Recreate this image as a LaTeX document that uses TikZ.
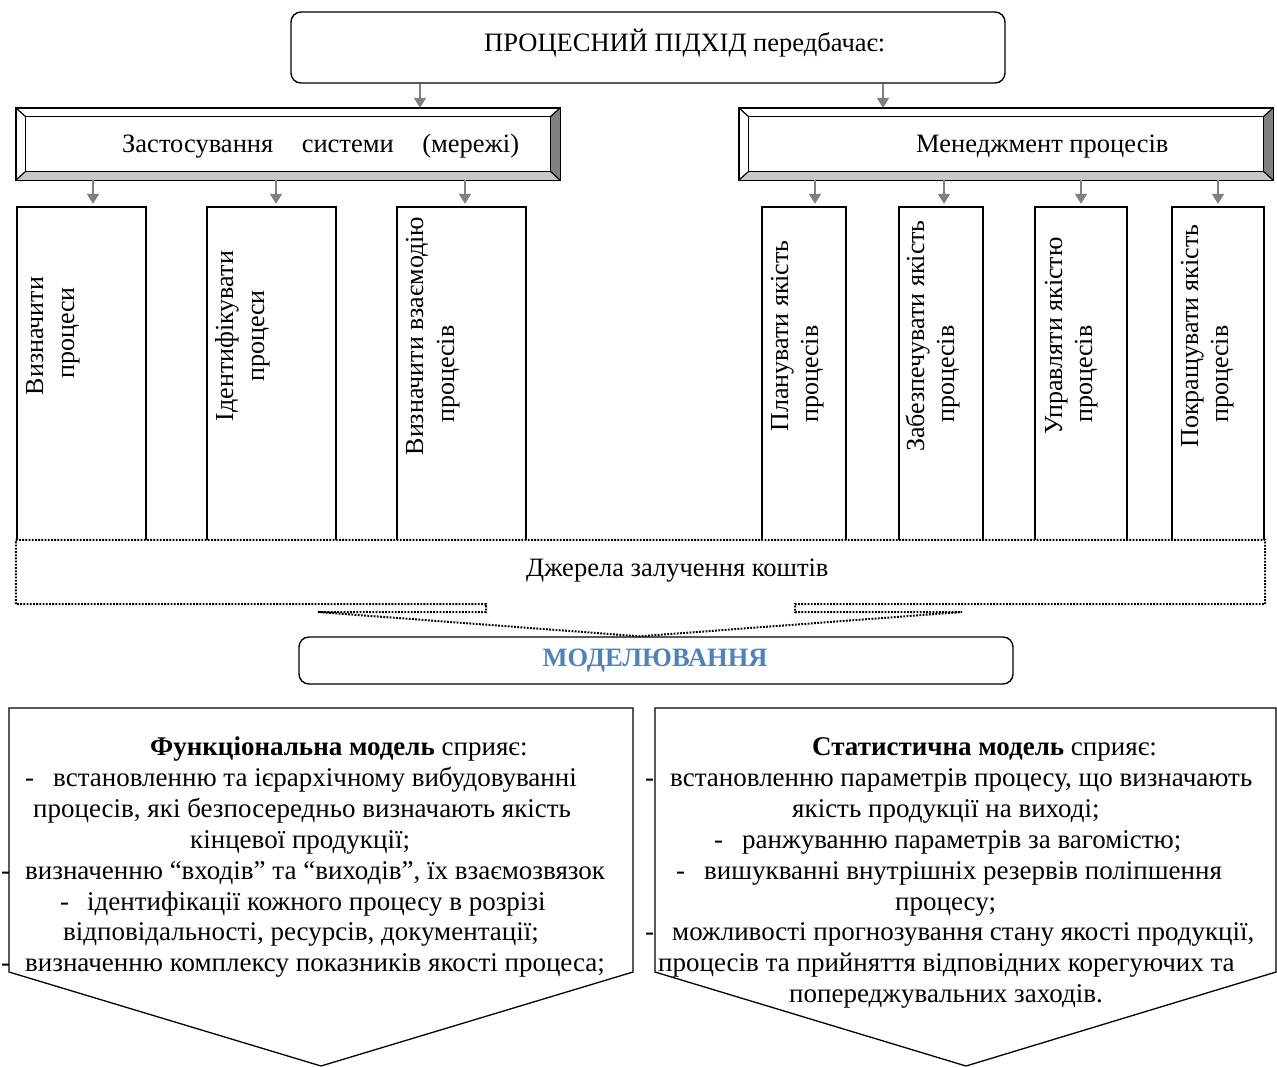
\documentclass[tikz,border=0pt]{standalone}
\usepackage{fontspec}
\setmainfont{Liberation Serif}
\usetikzlibrary{arrows.meta,calc}
\definecolor{arrgray}{RGB}{128,128,128}
\definecolor{bevlight}{RGB}{200,200,200}
\definecolor{bevdark}{RGB}{128,128,128}
\definecolor{modblue}{RGB}{79,129,189}

% raised (bevelled) frame around a rectangular node
\newcommand\bevelframe[1]{%
  \fill[bevdark] (#1.north east) -- (#1.south east) -- ($(#1.south east)+(-10,-9)$) -- ($(#1.north east)+(-10,9)$) -- cycle;
  \fill[bevlight] (#1.south west) -- (#1.south east) -- ($(#1.south east)+(-10,-9)$) -- ($(#1.south west)+(10,-9)$) -- cycle;
  \draw[line width=1.2pt] ($(#1.north west)+(10,9)$) rectangle ($(#1.south east)+(-10,-9)$);
  \draw[line width=1.2pt] (#1.north west) -- ($(#1.north west)+(10,9)$)
                          (#1.north east) -- ($(#1.north east)+(-10,9)$)
                          (#1.south west) -- ($(#1.south west)+(10,-9)$)
                          (#1.south east) -- ($(#1.south east)+(-10,-9)$);
  \draw[line width=1.4pt] (#1.north west) rectangle (#1.south east);
}
% open-bottom column box
\newcommand\colframe[1]{%
  \draw[line width=1.6pt] (#1.south west) -- (#1.north west) -- (#1.north east) -- (#1.south east);
}

\begin{document}
\begin{tikzpicture}[x=1pt,y=-1pt,
  font=\fontsize{26.5}{30.9}\selectfont,
  txt/.style={inner sep=0pt, anchor=base west},
  ptxt/.style={txt, font=\fontsize{27}{30.9}\selectfont},
  vtxt/.style={inner sep=0pt, anchor=base, rotate=90, font=\fontsize{26}{30}\selectfont},
  rbox/.style={draw=black, line width=1.4pt, rounded corners=10pt, inner sep=0pt},
  bevbox/.style={inner sep=0pt, minimum height=72pt},
  colbox/.style={inner sep=0pt, minimum height=333pt},
  arr/.style={draw=arrgray, line width=2pt, -{Triangle[width=12pt,length=10pt]}},
  dots/.style={line width=2pt, dash pattern=on 1.8pt off 1.4pt},
  pent/.style={draw=black, line width=1.3pt},
]
\useasboundingbox (0,0) rectangle (1277,1066);

% top box
\node[rbox, minimum width=714pt, minimum height=71pt] (top) at (648,47.5) {};
\node[txt] (toptxt) at (484,51) {ПРОЦЕСНИЙ ПІДХІД передбачає:};

% bevelled boxes
\node[bevbox, minimum width=544pt] (lb) at (288,144) {};
\node[bevbox, minimum width=534pt] (rb) at (1006,144) {};
\bevelframe{lb}
\bevelframe{rb}
\node[txt] (lbt) at (122,152) {Застосування\hspace{28.5pt}системи\hspace{28.5pt}(мережі)};
\node[txt] (rbt) at (916,152) {Менеджмент процесів};

\draw[arr] ([xshift=132pt]lb.north |- top.south) -- ([xshift=132pt]lb.north);
\draw[arr] ([xshift=-123pt]rb.north |- top.south) -- ([xshift=-123pt]rb.north);

% column boxes
\node[colbox, minimum width=129pt] (v1) at (81.5,373.5) {};
\node[colbox, minimum width=129pt] (v2) at (271.5,373.5) {};
\node[colbox, minimum width=129pt] (v3) at (461.5,373.5) {};
\node[colbox, minimum width=84pt] (v4) at (804,373.5) {};
\node[colbox, minimum width=84pt] (v5) at (941,373.5) {};
\node[colbox, minimum width=92pt] (v6) at (1081,373.5) {};
\node[colbox, minimum width=92pt] (v7) at (1218,373.5) {};
\foreach \n in {v1,v2,v3,v4,v5,v6,v7} {\colframe{\n}}

\draw[arr] ([xshift=11.5pt]v1.north |- lb.south) -- ([xshift=11.5pt,yshift=3pt]v1.north);
\draw[arr] ([xshift=4.5pt]v2.north |- lb.south) -- ([xshift=4.5pt,yshift=3pt]v2.north);
\draw[arr] ([xshift=3.5pt]v3.north |- lb.south) -- ([xshift=3.5pt,yshift=3pt]v3.north);
\draw[arr] ([xshift=11pt]v4.north |- rb.south) -- ([xshift=11pt,yshift=3pt]v4.north);
\draw[arr] ([xshift=3pt]v5.north |- rb.south) -- ([xshift=3pt,yshift=3pt]v5.north);
\draw[arr] (v6.north |- rb.south) -- ([yshift=3pt]v6.north);
\draw[arr] (v7.north |- rb.south) -- ([yshift=3pt]v7.north);

% column texts
\node[vtxt] (t1a) at (43,336) {Визначити};
\node[vtxt] (t1b) at (74,333) {процеси};
\node[vtxt] (t2a) at (233,336) {Ідентифікувати};
\node[vtxt] (t2b) at (264,336) {процеси};
\node[vtxt] (t3a) at (423,336) {Визначити взаємодію};
\node[vtxt] (t3b) at (454,374) {процесів};
\node[vtxt] (t4a) at (788,336) {Планувати якість};
\node[vtxt] (t4b) at (818,374) {процесів};
\node[vtxt] (t5a) at (924,336) {Забезпечувати якість};
\node[vtxt] (t5b) at (954,374) {процесів};
\node[vtxt] (t6a) at (1062,336) {Управляти якістю};
\node[vtxt] (t6b) at (1092,374) {процесів};
\node[vtxt] (t7a) at (1198,336) {Покращувати якість};
\node[vtxt] (t7b) at (1228,374) {процесів};

% modelling box
\node[rbox, minimum width=714pt, minimum height=47pt] (mod) at (656,660.5) {};
\node[inner sep=0pt, anchor=base, text=modblue, font=\fontsize{26.5}{30.9}\selectfont\bfseries] (modt) at (655,666) {МОДЕЛЮВАННЯ};

% funding sources callout (dotted)
\node[inner sep=0pt, minimum width=1249pt, minimum height=64pt] (dz) at (640.5,572) {};
\draw[dots] (dz.north west) -- (dz.north east) -- (dz.south east) -- (795,604) -- (795,612) -- (962,612)
  -- ([xshift=-16pt]mod.north) -- (318,612) -- (486,612) -- (486,604) -- (dz.south west) -- cycle;
\node[txt] (dzt) at (526,576) {Джерела залучення коштів};

% functional model
\draw[pent] (9,708) -- (633,708) -- (633,972) -- (321,1066) -- (9,972) -- cycle;
\node[ptxt] (f1) at (150,755) {\textbf{Функціональна модель} сприяє:};
\node[ptxt] (f2d) at (25,786) {-};
\node[ptxt] (f2) at (53,786) {встановленню та ієрархічному вибудовуванні};
\node[ptxt] (f3) at (33,817) {процесів, які безпосередньо визначають якість};
\node[ptxt] (f4) at (190,848) {кінцевої продукції;};
\node[ptxt] (f5d) at (1,879) {-};
\node[ptxt] (f5) at (25,879) {визначенню “входів” та “виходів”, їх взаємозвязок};
\node[ptxt] (f6d) at (60,910) {-};
\node[ptxt] (f6) at (87,910) {ідентифікації кожного процесу в розрізі};
\node[ptxt] (f7) at (63,940) {відповідальності, ресурсів, документації;};
\node[ptxt] (f8d) at (1,971) {-};
\node[ptxt] (f8) at (25,971) {визначенню комплексу показників якості процеса;};

% statistical model
\draw[pent] (655,708) -- (1276,708) -- (1276,972) -- (966,1066) -- (655,972) -- cycle;
\node[ptxt] (s1) at (812,755) {\textbf{Статистична модель} сприяє:};
\node[ptxt] (s2d) at (645,786) {-};
\node[ptxt] (s2) at (670,786) {встановленню параметрів процесу, що визначають};
\node[ptxt] (s3) at (792,817) {якість продукції на виході;};
\node[ptxt] (s4d) at (714,848) {-};
\node[ptxt] (s4) at (742,848) {ранжуванню параметрів за вагомістю;};
\node[ptxt] (s5d) at (676,879) {-};
\node[ptxt] (s5) at (704,879) {вишукванні внутрішніх резервів поліпшення};
\node[ptxt] (s6) at (895,910) {процесу;};
\node[ptxt] (s7d) at (645,940) {-};
\node[ptxt] (s7) at (672,940) {можливості прогнозування стану якості продукції,};
\node[ptxt] (s8) at (658,971) {процесів та прийняття відповідних корегуючих та};
\node[ptxt] (s9) at (789,1002) {попереджувальних заходів.};
\end{tikzpicture}
\end{document}
